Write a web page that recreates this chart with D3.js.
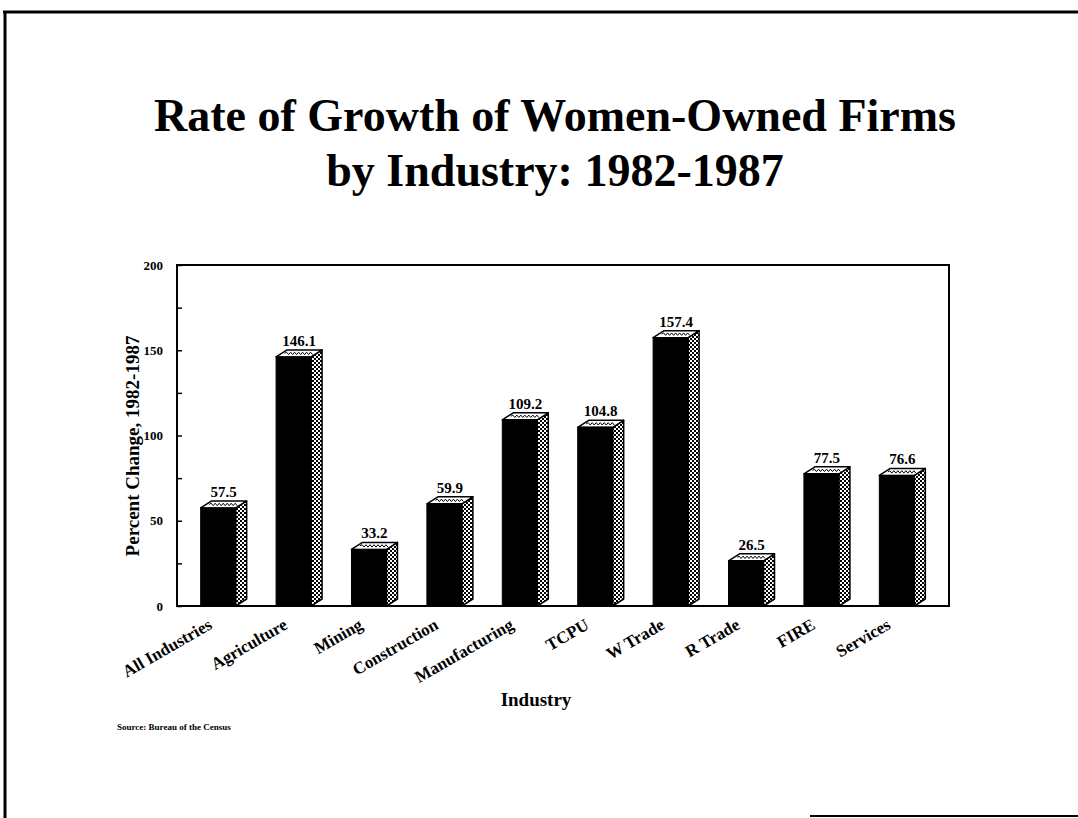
<!DOCTYPE html>
<html>
<head>
<meta charset="utf-8">
<script src="https://cdnjs.cloudflare.com/ajax/libs/d3/7.8.5/d3.min.js"></script>
<style>
  body { margin: 0; background: #fff; }
  text { font-family: "Liberation Serif", "Times New Roman", serif; font-weight: bold; fill: #000; }
</style>
</head>
<body>
<script>
// chart data
var industries = ["All Industries", "Agriculture", "Mining", "Construction", "Manufacturing",
                  "TCPU", "W Trade", "R Trade", "FIRE", "Services"];
var pctChange = [57.5, 146.1, 33.2, 59.9, 109.2, 104.8, 157.4, 26.5, 77.5, 76.6];
var yTicks = [0, 25, 50, 75, 100, 125, 150, 175, 200];
var titleLines = ["Rate of Growth of Women-Owned Firms", "by Industry: 1982-1987"];

var width = 1078, height = 818;
var plot = {left: 177, right: 949, top: 265, bottom: 606};
var depthX = 11, depthY = 7;   // 3d offset of the bars

var svg = d3.select("body").append("svg")
    .attr("width", width)
    .attr("height", height);

// patterns for the bar side
var defs = svg.append("defs");
var pat = defs.append("pattern")
    .attr("id", "dots")
    .attr("patternUnits", "userSpaceOnUse")
    .attr("width", 4).attr("height", 4);
pat.append("rect").attr("width", 4).attr("height", 4).attr("fill", "#fff");
pat.append("rect").attr("width", 2).attr("height", 2).attr("fill", "#000");
pat.append("rect").attr("x", 2).attr("y", 2).attr("width", 2).attr("height", 2).attr("fill", "#000");

// page frame (partial, like the scanned slide)
svg.append("line").attr("x1", 3).attr("x2", width).attr("y1", 12).attr("y2", 12)
    .attr("stroke", "#000").attr("stroke-width", 3);
svg.append("line").attr("x1", 5).attr("x2", 5).attr("y1", 11).attr("y2", height)
    .attr("stroke", "#000").attr("stroke-width", 3);
svg.append("line").attr("x1", 810).attr("x2", width).attr("y1", 816).attr("y2", 816)
    .attr("stroke", "#000").attr("stroke-width", 2);

// title
svg.append("text")
    .attr("text-anchor", "middle")
    .style("font-size", "46px")
    .selectAll("tspan").data(titleLines).enter().append("tspan")
    .attr("x", 555)
    .attr("y", function(d, i) { return 131 + i * 55; })
    .text(function(d) { return d; });

// scales
var xScale = d3.scaleBand()
    .domain(industries)
    .range([plot.left, 938])
    .paddingInner(0.536)
    .paddingOuter(0.314);

var yScale = d3.scaleLinear()
    .domain([0, 200])
    .range([plot.bottom, plot.top]);

// y axis, ticks point inward
var yAxis = d3.axisLeft(yScale)
    .tickValues(yTicks)
    .tickSize(-5)
    .tickPadding(14)
    .tickFormat(function(d) { return d % 50 === 0 ? d : ""; });

var gy = svg.append("g")
    .attr("transform", "translate(" + plot.left + ",0)")
    .call(yAxis);
gy.select(".domain").remove();
gy.selectAll(".tick line").attr("stroke", "#000").attr("stroke-width", 1.5);
gy.selectAll(".tick text")
    .style("font-size", "13px")
    .style("font-family", "'Liberation Serif', serif")
    .style("font-weight", "bold");

// x axis labels, rotated
var xAxis = d3.axisBottom(xScale).tickSize(0).tickPadding(0);
var gx = svg.append("g")
    .attr("transform", "translate(0," + plot.bottom + ")")
    .call(xAxis);
gx.select(".domain").remove();
gx.selectAll(".tick text")
    .style("font-size", "17px")
    .style("font-family", "'Liberation Serif', serif")
    .style("font-weight", "bold")
    .attr("text-anchor", "end")
    .attr("dy", null)
    .attr("y", 0)
    .attr("transform", "translate(-5,22) rotate(-30)");

// plot frame
svg.append("rect")
    .attr("x", plot.left).attr("y", plot.top)
    .attr("width", plot.right - plot.left)
    .attr("height", plot.bottom - plot.top)
    .attr("fill", "none")
    .attr("stroke", "#000")
    .attr("stroke-width", 2);

// bars
var bw = xScale.bandwidth();
var bars = svg.selectAll("g.bar")
    .data(industries.map(function(c, i) { return {name: c, value: pctChange[i]}; }))
    .enter().append("g").attr("class", "bar");

// side face
bars.append("path")
    .attr("d", function(d) {
        var x1 = xScale(d.name) + bw, yv = yScale(d.value), y0 = yScale(0);
        return "M" + x1 + "," + yv + "L" + (x1 + depthX) + "," + (yv - depthY) +
               "L" + (x1 + depthX) + "," + (y0 - depthY) + "L" + x1 + "," + y0 + "Z";
    })
    .attr("fill", "url(#dots)")
    .attr("stroke", "#000")
    .attr("stroke-width", 1.5)
    .attr("stroke-linejoin", "round");

// top face
bars.append("path")
    .attr("d", function(d) {
        var x0 = xScale(d.name), x1 = x0 + bw, yv = yScale(d.value);
        return "M" + x0 + "," + yv + "L" + (x0 + depthX) + "," + (yv - depthY) +
               "L" + (x1 + depthX) + "," + (yv - depthY) + "L" + x1 + "," + yv + "Z";
    })
    .attr("fill", "#fff")
    .attr("stroke", "#000")
    .attr("stroke-width", 1.5)
    .attr("stroke-linejoin", "round");

// wavy line on top face
bars.append("path")
    .attr("d", function(d) {
        var x0 = xScale(d.name) + depthX / 2 + 3, x1 = xScale(d.name) + bw + depthX / 2 - 3;
        var ym = yScale(d.value) - depthY / 2;
        var p = "M" + x0 + "," + ym, k = 0;
        for (var x = x0 + 2; x <= x1; x += 2) {
            k++;
            p += "L" + x + "," + (ym + (k % 2 ? -1.2 : 1.2));
        }
        return p;
    })
    .attr("fill", "none")
    .attr("stroke", "#000")
    .attr("stroke-width", 1);

// front face
bars.append("rect")
    .attr("x", function(d) { return xScale(d.name); })
    .attr("y", function(d) { return yScale(d.value); })
    .attr("width", bw)
    .attr("height", function(d) { return yScale(0) - yScale(d.value); })
    .attr("fill", "#000")
    .attr("stroke", "#000")
    .attr("stroke-width", 1);

// value labels
bars.append("text")
    .attr("x", function(d) { return xScale(d.name) + (bw + depthX) / 2; })
    .attr("y", function(d) { return yScale(d.value) - depthY - 4; })
    .attr("text-anchor", "middle")
    .style("font-size", "15px")
    .text(function(d) { return d.value.toFixed(1); });

// axis titles
svg.append("text")
    .attr("transform", "translate(139,446) rotate(-90)")
    .attr("text-anchor", "middle")
    .style("font-size", "19px")
    .text("Percent Change, 1982-1987");

svg.append("text")
    .attr("x", 536).attr("y", 706)
    .attr("text-anchor", "middle")
    .style("font-size", "19px")
    .text("Industry");

svg.append("text")
    .attr("x", 117).attr("y", 730)
    .style("font-size", "9px")
    .text("Source: Bureau of the Census");
</script>
</body>
</html>
